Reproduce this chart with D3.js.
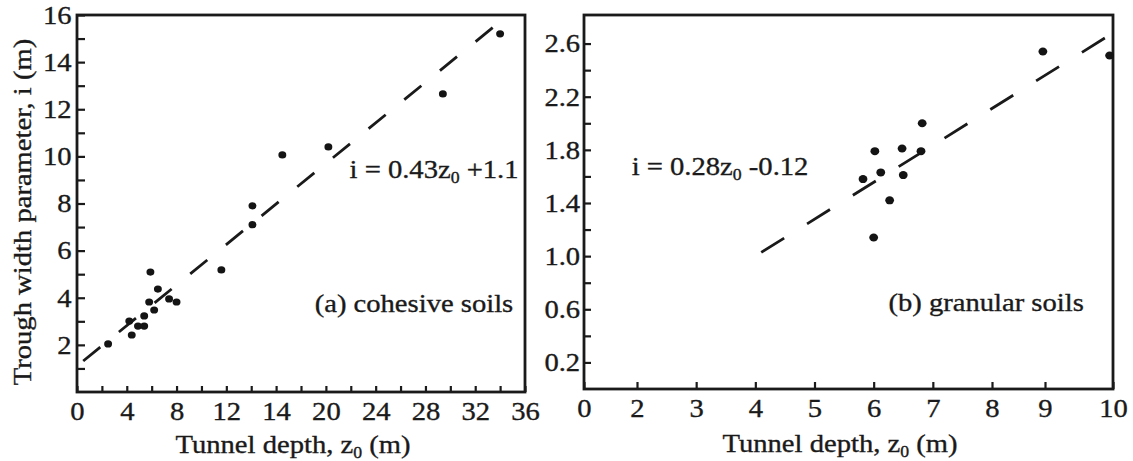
<!DOCTYPE html>
<html>
<head>
<meta charset="utf-8">
<script src="https://cdn.jsdelivr.net/npm/d3@7"></script>
<style>
  body { margin: 0; background: #fff; }
  text { font-family: "Liberation Serif", "Times New Roman", serif; fill: #1a1a1a; stroke: #1a1a1a; stroke-width: 0.35px; }
</style>
</head>
<body>
<svg id="chart"></svg>
<script>
// (a) cohesive soils: tunnel depth z0 (m) vs trough width i (m)
const cohesiveZ = [2.5, 4.2, 4.4, 4.9, 5.4, 5.4, 5.8, 5.9, 6.2, 6.5, 7.4, 8.0, 11.6, 14.1, 14.1, 16.5, 20.2, 29.4, 34.0]
const cohesiveI = [2.04, 3.01, 2.42, 2.8, 2.8, 3.23, 3.82, 5.09, 3.48, 4.37, 3.95, 3.82, 5.18, 7.9, 7.1, 10.06, 10.4, 12.65, 15.2]
// (b) granular soils
const granularZ = [5.82, 6.0, 6.02, 6.12, 6.27, 6.48, 6.5, 6.8, 6.82, 8.96, 9.95]
const granularI = [1.58, 1.14, 1.79, 1.63, 1.42, 1.81, 1.61, 1.79, 2.0, 2.54, 2.51]

// fitted lines i = a*z0 + b, drawn over the z0 span shown
const cohesiveFit = { a: 0.43, b: 1.1, from: 0.5, to: 36 }
const granularFit = { a: 0.28, b: -0.12, from: 4.1, to: 10 }

// axis ticks and labels (the original figure prints "14" under the 16 tick and "0" under the 1 tick)
const xTicksA = d3.range(0, 37, 2)
const xLabelValuesA = [0, 4, 8, 12, 16, 20, 24, 28, 32, 36]
const xLabelTextA = ['0', '4', '8', '12', '14', '20', '24', '28', '32', '36']
const yTicksA = d3.range(1, 17, 1)
const yLabelValuesA = [2, 4, 6, 8, 10, 12, 14, 16]

const xTicksB = [1, 2, 3, 4, 5, 6, 7, 8, 9, 10]
const xLabelTextB = ['0', '2', '3', '4', '5', '6', '7', '8', '9', '10']
const yTicksB = [0.2, 0.4, 0.6, 0.8, 1.0, 1.2, 1.4, 1.6, 1.8, 2.0, 2.2, 2.4, 2.6]
const yLabelValuesB = [0.2, 0.6, 1.0, 1.4, 1.8, 2.2, 2.6]

const W = 1133, H = 461
const SX = 1.1   // the scanned lettering is wide
const FS = 26

const svg = d3.select('#chart').attr('width', W).attr('height', H)

// helper: text in serif, stretched horizontally; {sub: '0'} parts become subscripts
const label = (g, x, y, anchor, parts, rotate) => {
    const t = g.append('g')
        .attr('transform', `translate(${x},${y})${rotate ? ' rotate(-90)' : ''} scale(${SX},1)`)
        .append('text')
        .attr('text-anchor', anchor)
        .attr('font-size', FS)
    let shift = 0
    parts.forEach(p => {
        if (typeof p === 'string') {
            t.append('tspan').attr('dy', -shift).text(p)
            shift = 0
        } else {
            t.append('tspan').attr('font-size', FS * 0.62).attr('dy', 5).text(p.sub)
            shift = 5
        }
    })
    return t
}

const drawPanel = (opt) => {
    const { box, x, y } = opt
    const g = svg.append('g')
    const clipId = opt.id + '-clip'
    svg.append('clipPath').attr('id', clipId)
        .append('rect')
        .attr('x', box.left).attr('y', box.top)
        .attr('width', box.right - box.left).attr('height', box.bottom - box.top)

    // y axis, ticks pointing inward
    const yAxis = d3.axisLeft(y)
        .tickValues(opt.yTicks)
        .tickSizeInner(-opt.yTickLen).tickSizeOuter(0)
        .tickPadding(opt.yPad)
        .tickFormat(d => opt.yLabels.some(v => Math.abs(v - d) < 1e-6) ? opt.yFormat(d) : '')
    const ya = g.append('g').attr('transform', `translate(${box.left},0)`).call(yAxis)
    ya.select('.domain').remove()
    ya.selectAll('line').attr('stroke', '#1a1a1a').attr('stroke-width', 2.2)
    ya.selectAll('text')
        .filter(function () { return this.textContent === '' })
        .remove()
    ya.selectAll('text')
        .attr('font-size', FS).attr('font-family', null)
        .attr('transform', `scale(${SX},1)`)

    // x axis, ticks pointing inward
    const xAxis = d3.axisBottom(x)
        .tickValues(opt.xTicks)
        .tickSizeInner(-opt.xTickLen).tickSizeOuter(0)
        .tickPadding(opt.xPad)
        .tickFormat(d => {
            const k = opt.xLabelValues.indexOf(d)
            return k < 0 ? '' : opt.xLabelText[k]
        })
    const xa = g.append('g').attr('transform', `translate(0,${box.bottom})`).call(xAxis)
    xa.select('.domain').remove()
    xa.selectAll('line').attr('stroke', '#1a1a1a').attr('stroke-width', 2.2)
    xa.selectAll('text')
        .filter(function () { return this.textContent === '' })
        .remove()
    xa.selectAll('text')
        .attr('font-size', FS).attr('font-family', null)
        .attr('transform', `scale(${SX},1)`)

    // frame
    g.append('rect')
        .attr('x', box.left).attr('y', box.top)
        .attr('width', box.right - box.left).attr('height', box.bottom - box.top)
        .attr('fill', 'none').attr('stroke', '#1a1a1a').attr('stroke-width', 2.8)

    // fitted dashed line
    const f = opt.fit
    const line = d3.line().x(d => x(d)).y(d => y(f.a * d + f.b))
    g.append('path')
        .datum([f.from, f.to])
        .attr('clip-path', `url(#${clipId})`)
        .attr('d', line)
        .attr('fill', 'none')
        .attr('stroke', '#1a1a1a')
        .attr('stroke-width', 2.8)
        .attr('stroke-dasharray', opt.dash)

    // data points
    g.selectAll('.pt').data(opt.zs.map((z, k) => ({ z, i: opt.is[k] })))
        .enter()
        .append('ellipse')
        .attr('class', 'pt')
        .attr('cx', d => x(d.z))
        .attr('cy', d => y(d.i))
        .attr('rx', opt.r * 1.1)
        .attr('ry', opt.r)
        .attr('fill', '#141414')

    return g
}

// panel (a)
const boxA = { left: 77, top: 15, right: 525, bottom: 392 }
const xA = d3.scaleLinear().domain([0, 36]).range([boxA.left, boxA.right])
const yA = d3.scaleLinear().domain([0, 16]).range([boxA.bottom, boxA.top])
const gA = drawPanel({
    id: 'a', box: boxA, x: xA, y: yA,
    xTicks: xTicksA, xLabelValues: xLabelValuesA, xLabelText: xLabelTextA,
    yTicks: yTicksA, yLabels: yLabelValuesA, yFormat: d3.format('d'),
    xTickLen: 6, yTickLen: 8, xPad: 10, yPad: 5,
    fit: cohesiveFit, dash: '22 24',
    zs: cohesiveZ, is: cohesiveI, r: 3.6
})

// panel (b): the printed depth axis is not evenly spaced
const boxB = { left: 584, top: 15, right: 1113, bottom: 389 }
const xB = d3.scaleLinear().domain([1, 2, 8, 9, 10]).range([boxB.left, 637, 992, 1045, boxB.right])
const yB = d3.scaleLinear().domain([0, 2.815]).range([boxB.bottom, boxB.top])
const gB = drawPanel({
    id: 'b', box: boxB, x: xB, y: yB,
    xTicks: xTicksB, xLabelValues: xTicksB, xLabelText: xLabelTextB,
    yTicks: yTicksB, yLabels: yLabelValuesB, yFormat: d3.format('.1f'),
    xTickLen: 7, yTickLen: 7, xPad: 10, yPad: 3.5,
    fit: granularFit, dash: '27 27',
    zs: granularZ, is: granularI, r: 4
})

// annotations
label(gA, xA(21.9), yA(9.1), 'start', ['i = 0.43z', { sub: '0' }, ' +1.1'])
label(gA, xA(19.1), yA(3.4), 'start', ['(a) cohesive soils'])
label(gB, xB(1.9), yB(1.61), 'start', ['i = 0.28z', { sub: '0' }, ' -0.12'])
label(gB, xB(6.25), yB(0.59), 'start', ['(b) granular soils'])

// axis titles
label(svg, 293, 453, 'middle', ['Tunnel depth, z', { sub: '0' }, ' (m)'])
label(svg, 840, 452, 'middle', ['Tunnel depth, z', { sub: '0' }, ' (m)'])
label(svg, 31, 212, 'middle', ['Trough width parameter, i (m)'], true)
</script>
</body>
</html>
